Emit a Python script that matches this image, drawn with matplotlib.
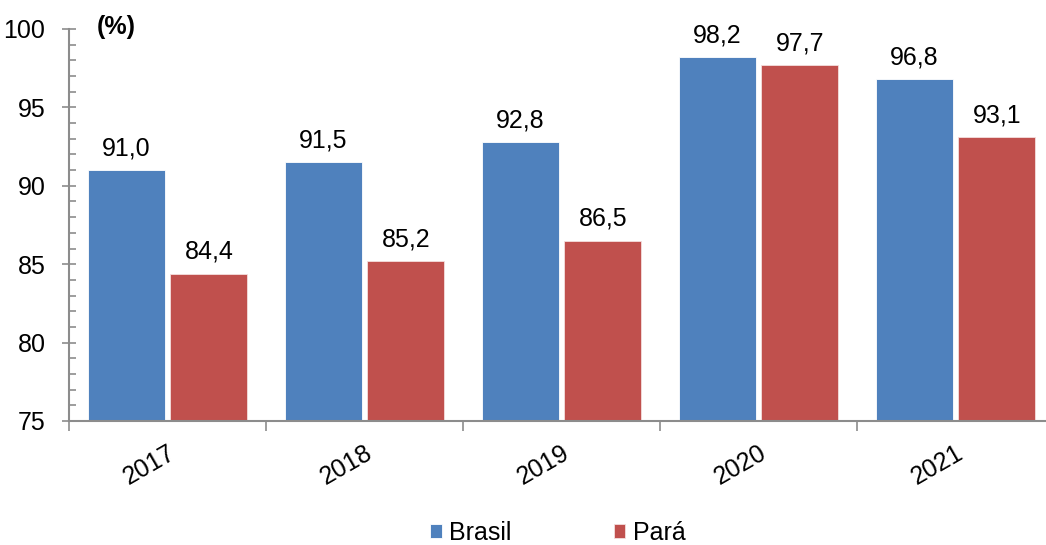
import matplotlib
matplotlib.use("Agg")
import matplotlib.pyplot as plt
import numpy as np
from matplotlib.ticker import MultipleLocator

years = ["2017", "2018", "2019", "2020", "2021"]
brasil = [91.0, 91.5, 92.8, 98.2, 96.8]
para = [84.4, 85.2, 86.5, 97.7, 93.1]
series_names = ["Brasil", "Pará"]

plt.rcParams['font.family'] = ['Liberation Sans', 'DejaVu Sans']

W, H = 1046, 545
fig = plt.figure(figsize=(W/100, H/100), dpi=100)
ax = fig.add_axes([69/W, 1-421/H, (1054-69)/W, (421-29)/H])

x = np.arange(len(years))
bw = 0.39
off = 0.21
blue = "#4F81BD"
red = "#C0504D"
FS = 18
b1 = ax.bar(x-off, [v-75 for v in brasil], bw, bottom=75, color=blue, edgecolor="white", linewidth=0.6, label=series_names[0])
b2 = ax.bar(x+off, [v-75 for v in para], bw, bottom=75, color=red, edgecolor="#f4dede", linewidth=0.6, label=series_names[1])

for xs, vals in ((x-off, brasil), (x+off, para)):
    for xi, v in zip(xs, vals):
        ax.annotate(f"{v:.1f}".replace(".", ","), (xi, v), xytext=(0, 7), textcoords="offset points",
                    ha="center", va="bottom", fontsize=FS)

ax.set_xlim(-0.5, 4.5)
ax.set_ylim(75, 100)
ax.yaxis.set_major_locator(MultipleLocator(5))
ax.yaxis.set_minor_locator(MultipleLocator(1))
ax.tick_params(axis='y', which='major', direction='inout', length=10, width=1.2, color="#8c8c8c", labelsize=FS, pad=12)
ax.tick_params(axis='y', which='minor', direction='in', length=5, width=1.2, color="#8c8c8c")

ax.set_xticks(np.arange(-0.5, 5.0, 1.0))
ax.set_xticklabels([])
ax.tick_params(axis='x', which='major', direction='out', length=7, width=1.2, color="#8c8c8c")
ax.set_xticks(x, minor=True)
ax.set_xticklabels(years, minor=True, rotation=30, ha="right", rotation_mode="anchor", fontsize=FS)
ax.tick_params(axis='x', which='minor', length=0, pad=14)

for s in ["top", "right"]:
    ax.spines[s].set_visible(False)
for s in ["left", "bottom"]:
    ax.spines[s].set_color("#8c8c8c")
    ax.spines[s].set_linewidth(1.5)

fig.text(116/W, 1-27/H, "(%)", fontsize=FS, fontweight="bold", ha="center", va="center")

fig.legend(handles=[b1, b2], labels=series_names, loc="center", bbox_to_anchor=(558/W, 1-533/H),
           ncol=2, frameon=False, fontsize=FS, handlelength=0.45, handleheight=0.45, handletextpad=0.3,
           columnspacing=4.1)

fig.savefig("out.png", dpi=100)
